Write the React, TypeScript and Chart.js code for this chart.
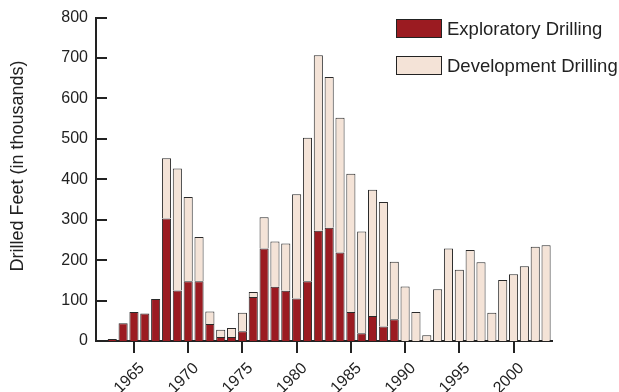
import React, { useEffect, useRef } from "react";
import { Chart, registerables } from "chart.js";

Chart.register(...registerables);

const years: number[] = [
  1962, 1963, 1964, 1965, 1966, 1967, 1968, 1969, 1970, 1971, 1972, 1973, 1974, 1975,
  1976, 1977, 1978, 1979, 1980, 1981, 1982, 1983, 1984, 1985, 1986, 1987, 1988, 1989,
  1990, 1991, 1992, 1993, 1994, 1995, 1996, 1997, 1998, 1999, 2000, 2001, 2002, 2003,
];

const exploratory: (number | null)[] = [
  null, 5, 44, 72, 68, 104, 303, 125, 148, 148, 42, 10, 10, 24,
  109, 229, 134, 124, 105, 148, 273, 280, 219, 72, 19, 62, 36, 54,
  0, 0, 0, 0, 0, 0, 0, 0, 0, 0, 0, 0, 0, 0,
];

const development: (number | null)[] = [
  null, 0, 0, 0, 0, 0, 149, 302, 208, 109, 31, 18, 22, 46,
  12, 77, 112, 117, 258, 355, 434, 373, 333, 342, 252, 312, 308, 142,
  135, 72, 14, 128, 229, 176, 225, 195, 70, 151, 165, 185, 233, 237,
];

const yTicks: number[] = [0, 100, 200, 300, 400, 500, 600, 700, 800];

const seriesNames = ["Exploratory Drilling", "Development Drilling"];
const seriesColors = ["#9b1b21", "#f4e3d7"];
const yTitle = "Drilled Feet (in thousands)";

const FONT = "'Liberation Sans', Arial, Helvetica, sans-serif";
const INK = "#222222";

const overlayPlugin = {
  id: "overlay",
  afterDraw(chart: any) {
    const ctx = chart.ctx;
    const y = chart.scales.y;
    const area = chart.chartArea;
    ctx.save();
    // inward y ticks
    ctx.strokeStyle = INK;
    ctx.lineWidth = 2;
    for (const v of yTicks) {
      const py = Math.round(y.getPixelForValue(v));
      ctx.beginPath();
      ctx.moveTo(area.left, py);
      ctx.lineTo(area.left + 11, py);
      ctx.stroke();
    }
    // y title
    ctx.fillStyle = INK;
    ctx.font = `18px ${FONT}`;
    ctx.textAlign = "center";
    ctx.textBaseline = "middle";
    ctx.translate(18, 166);
    ctx.rotate(-Math.PI / 2);
    ctx.fillText(yTitle, 0, 0);
    ctx.restore();

    // legend
    ctx.save();
    const lx = 396;
    const ly = [19, 56];
    chart.data.datasets.forEach((ds: any, i: number) => {
      ctx.fillStyle = ds.backgroundColor;
      ctx.fillRect(lx, ly[i], 45, 18);
      ctx.strokeStyle = INK;
      ctx.lineWidth = 1;
      ctx.strokeRect(lx + 0.5, ly[i] + 0.5, 45, 18);
      ctx.fillStyle = INK;
      ctx.font = `18.5px ${FONT}`;
      ctx.textAlign = "left";
      ctx.textBaseline = "middle";
      ctx.fillText(ds.label, lx + 51, ly[i] + 10.5);
    });
    ctx.restore();
  },
};

export default function App() {
  const ref = useRef<HTMLCanvasElement | null>(null);

  useEffect(() => {
    if (!ref.current) return;
    const chart = new Chart(ref.current, {
      type: "bar",
      data: {
        labels: years.map(String),
        datasets: [
          {
            label: seriesNames[0],
            data: exploratory,
            backgroundColor: seriesColors[0],
            borderColor: "#2a2a2a",
            borderWidth: 1,
            barPercentage: 0.84,
            categoryPercentage: 1,
          },
          {
            label: seriesNames[1],
            data: development,
            backgroundColor: seriesColors[1],
            borderColor: "#2a2a2a",
            borderWidth: 1,
            barPercentage: 0.84,
            categoryPercentage: 1,
          },
        ],
      },
      options: {
        responsive: false,
        animation: false,
        events: [],
        layout: { padding: { left: 0, right: 67.5, top: 14, bottom: 0 } },
        plugins: {
          legend: { display: false },
          tooltip: { enabled: false },
          title: { display: false },
        },
        scales: {
          x: {
            stacked: true,
            afterFit: (s: any) => {
              s.height = 51;
            },
            grid: {
              offset: false,
              drawOnChartArea: false,
              drawTicks: true,
              tickLength: 12,
              lineWidth: 2,
              color: (c: any) =>
                years[c.index] !== undefined && years[c.index] % 5 === 0 ? INK : "rgba(0,0,0,0)",
            },
            border: { display: true, color: INK, width: 2 },
            ticks: {
              autoSkip: false,
              minRotation: 45,
              maxRotation: 45,
              padding: 6,
              labelOffset: 8,
              color: INK,
              font: { family: FONT, size: 16 },
              callback: (_v: any, i: number) => (years[i] % 5 === 0 ? String(years[i]) : ""),
            },
          },
          y: {
            stacked: true,
            min: 0,
            max: 800,
            afterFit: (s: any) => {
              s.width = 96;
            },
            afterBuildTicks: (s: any) => {
              s.ticks = yTicks.map((v) => ({ value: v }));
            },
            grid: { display: false, drawTicks: false },
            border: { display: true, color: INK, width: 2 },
            ticks: {
              padding: 8,
              color: INK,
              font: { family: FONT, size: 16 },
            },
          },
        },
      },
      plugins: [overlayPlugin],
    });
    return () => chart.destroy();
  }, []);

  return (
    <div style={{ position: "fixed", left: 0, top: 0, width: 619, height: 392, background: "#fff" }}>
      <canvas ref={ref} width={619} height={392} style={{ width: 619, height: 392, display: "block" }} />
    </div>
  );
}
